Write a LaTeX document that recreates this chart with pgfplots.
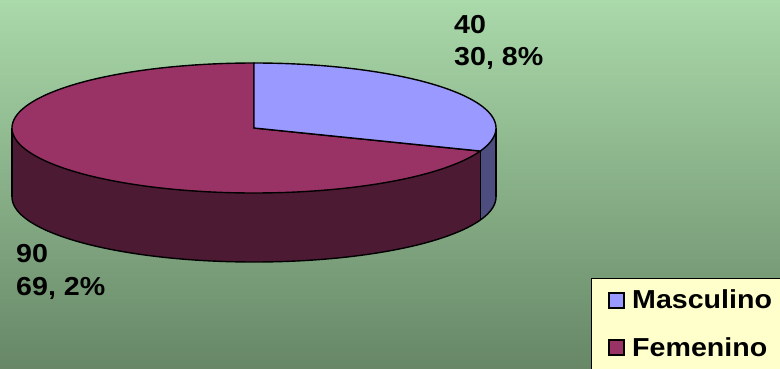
\documentclass[border=0pt]{standalone}
\usepackage{pgfplots}
\pgfplotsset{compat=1.18}
\usepackage{pgfplotstable}
\usepgfplotslibrary{fillbetween}
\usepackage{fontspec}
\setmainfont{Liberation Sans}[FakeStretch=1.1]
\definecolor{masc}{HTML}{9999FF}
\definecolor{mascside}{HTML}{4D4D80}
\definecolor{fem}{HTML}{993366}
\definecolor{femside}{HTML}{4D1A33}
\definecolor{bgtop}{HTML}{AAD9AA}
\definecolor{bgbot}{HTML}{678767}
\definecolor{legfill}{HTML}{FFFFCC}

\pgfplotstableread{
label value
Masculino 40
Femenino 90
}\piedata
\pgfplotstablegetelem{0}{value}\of\piedata \let\vM\pgfplotsretval
\pgfplotstablegetelem{1}{value}\of\piedata \let\vF\pgfplotsretval
\pgfmathsetmacro\angM{90-360*\vM/(\vM+\vF)}
\pgfmathsetmacro\angMs{360+\angM}
% geometry (pt): centre, radii, depth
\def\cx{254}\def\cy{240}\def\ra{242}\def\rb{65}\def\cyb{171}

\begin{document}
\begin{tikzpicture}
\begin{axis}[scale only axis, width=780pt, height=368pt,
  xmin=0, xmax=780, ymin=0, ymax=368, axis lines=none, clip=false,
  fill between/on layer=main]
\fill[top color=bgtop, bottom color=bgbot] (axis cs:0,0) rectangle (axis cs:780,368);
% side: Femenino
\addplot[forget plot, name path=ft, draw=none, domain=180:\angMs, samples=100] ({\cx+\ra*cos(x)},{\cy+\rb*sin(x)});
\addplot[forget plot, name path=fb, draw=none, domain=180:\angMs, samples=100] ({\cx+\ra*cos(x)},{\cyb+\rb*sin(x)});
\addplot[forget plot, fill=femside, draw=none] fill between[of=ft and fb];
% side: Masculino
\addplot[forget plot, name path=mt, draw=none, domain=\angMs:360, samples=20] ({\cx+\ra*cos(x)},{\cy+\rb*sin(x)});
\addplot[forget plot, name path=mb, draw=none, domain=\angMs:360, samples=20] ({\cx+\ra*cos(x)},{\cyb+\rb*sin(x)});
\addplot[forget plot, fill=mascside, draw=none] fill between[of=mt and mb];
% side outlines
\addplot[forget plot, black, line width=1.4pt, domain=180:360, samples=150] ({\cx+\ra*cos(x)},{\cyb+\rb*sin(x)});
\draw[black, line width=1.4pt] (axis cs:\cx-\ra,\cy) -- (axis cs:\cx-\ra,\cyb);
\draw[black, line width=1.4pt] (axis cs:\cx+\ra,\cy) -- (axis cs:\cx+\ra,\cyb);
\draw[black, line width=1.4pt] (axis cs:{\cx+\ra*cos(\angM)},{\cy+\rb*sin(\angM)}) -- (axis cs:{\cx+\ra*cos(\angM)},{\cyb+\rb*sin(\angM)});
% top faces
\addplot[forget plot, fill=fem, draw=black, line width=1.4pt, domain=-270:\angM, samples=200] ({\cx+\ra*cos(x)},{\cy+\rb*sin(x)}) -- (axis cs:\cx,\cy) -- cycle;
\addplot[forget plot, fill=masc, draw=black, line width=1.4pt, domain=\angM:90, samples=120] ({\cx+\ra*cos(x)},{\cy+\rb*sin(x)}) -- (axis cs:\cx,\cy) -- cycle;
% data labels
\node[anchor=base west, inner sep=0, font=\bfseries\fontsize{26}{30}\selectfont] at (axis cs:454,335) {40};
\node[anchor=base west, inner sep=0, font=\bfseries\fontsize{26}{30}\selectfont] at (axis cs:454,303) {30, 8\%};
\node[anchor=base west, inner sep=0, font=\bfseries\fontsize{26}{30}\selectfont] at (axis cs:16,106) {90};
\node[anchor=base west, inner sep=0, font=\bfseries\fontsize{26}{30}\selectfont] at (axis cs:16,73) {69, 2\%};
% legend
\draw[fill=legfill, draw=black, line width=1pt] (axis cs:591,90) rectangle (axis cs:800,-10);
\draw[fill=masc, line width=1.3pt] (axis cs:609,60) rectangle (axis cs:624,75);
\draw[fill=fem, line width=1.3pt] (axis cs:609,13) rectangle (axis cs:624,28);
\node[anchor=base west, inner sep=0, font=\bfseries\fontsize{26}{30}\selectfont] at (axis cs:632,60) {Masculino};
\node[anchor=base west, inner sep=0, font=\bfseries\fontsize{26}{30}\selectfont] at (axis cs:632,12) {Femenino};
\end{axis}
\pgfresetboundingbox
\path[use as bounding box] (0,0) rectangle (780pt,368pt);
\end{tikzpicture}
\end{document}
